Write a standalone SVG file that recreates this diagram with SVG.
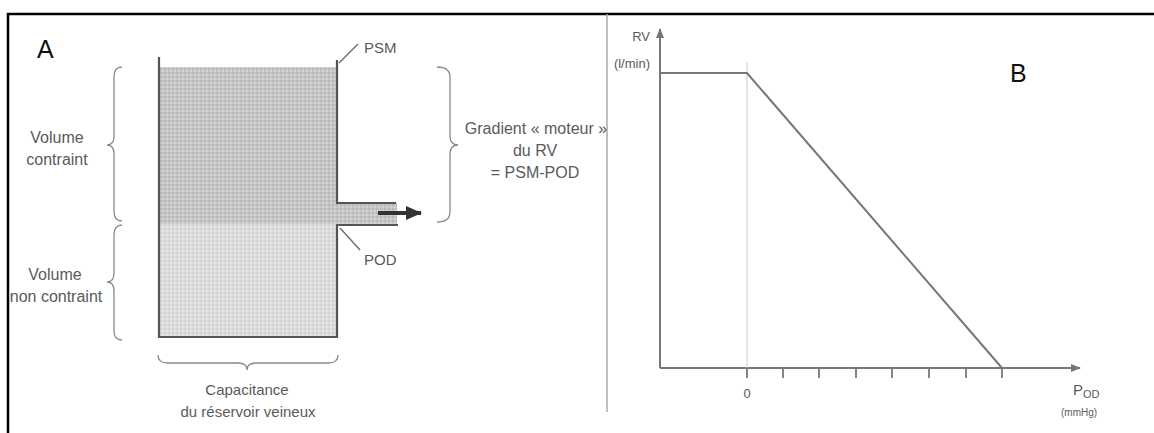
<svg xmlns="http://www.w3.org/2000/svg" width="1154" height="433" viewBox="0 0 1154 433">
<style>
.t{font-family:"Liberation Sans",Arial,sans-serif;fill:#5a5a5a;font-size:15px}
.m{font-size:16px}
.big{font-family:"Liberation Sans",Arial,sans-serif;fill:#111;font-size:25px}
.brace{fill:none;stroke:#8a8a8a;stroke-width:1.3}
.wall{fill:none;stroke:#555;stroke-width:2.2}
.ax{fill:none;stroke:#777;stroke-width:2}
</style>
<defs>
<pattern id="dk" width="4" height="4" patternUnits="userSpaceOnUse">
<rect width="4" height="4" fill="#c6c6c6"/><rect x="0" y="0" width="2" height="2" fill="#b8b8b8"/><rect x="2" y="2" width="2" height="2" fill="#d2d2d2"/>
</pattern>
<pattern id="lt" width="4" height="4" patternUnits="userSpaceOnUse">
<rect width="4" height="4" fill="#dddddd"/><rect x="0" y="0" width="2" height="2" fill="#d2d2d2"/><rect x="2" y="2" width="2" height="2" fill="#e6e6e6"/>
</pattern>
<marker id="ah" markerWidth="10" markerHeight="8" refX="9" refY="4" orient="auto" markerUnits="userSpaceOnUse">
<path d="M0,0 L10,4 L0,8 z" fill="#777"/>
</marker>
<marker id="bah" markerWidth="16" markerHeight="14" refX="15" refY="7" orient="auto" markerUnits="userSpaceOnUse">
<path d="M0,0 L16,7 L0,14 z" fill="#333"/>
</marker>
</defs>
<rect width="1154" height="433" fill="#fff"/>
<!-- frame -->
<path d="M8,440 L8,14 L1160,14" fill="none" stroke="#000" stroke-width="2.5"/>
<line x1="607" y1="14" x2="607" y2="412" stroke="#aaa" stroke-width="1.5"/>

<g id="panelA">
<text class="big" x="37" y="58">A</text>
<g id="reservoir">
<rect x="159" y="67" width="178" height="157" fill="url(#dk)"/>
<rect x="337" y="203" width="60" height="21" fill="url(#dk)"/>
<rect x="159" y="224" width="178" height="113" fill="url(#lt)"/>
<path class="wall" d="M159,57 L159,337 L337,337 L337,225 L398,225"/>
<path class="wall" d="M337,60 L337,203 L396,203"/>
</g>
<g id="arrow-out">
<line x1="378" y1="213" x2="421" y2="213" stroke="#333" stroke-width="4" marker-end="url(#bah)"/>
</g>
<g id="psm">
<line x1="339" y1="63" x2="358" y2="44" stroke="#666" stroke-width="1.3"/>
<text class="t" x="364" y="53">PSM</text>
</g>
<g id="pod">
<line x1="340" y1="228" x2="360" y2="250" stroke="#666" stroke-width="1.3"/>
<text class="t" x="364" y="265">POD</text>
</g>
<g id="vol-contraint">
<path class="brace" d="M122,67 Q114,67 114,77 L114,136 Q114,145 107,145 Q114,145 114,154 L114,211 Q114,221 122,221"/>
<text class="t m" text-anchor="middle" x="57" y="143">Volume</text>
<text class="t m" text-anchor="middle" x="57" y="165">contraint</text>
</g>
<g id="vol-non-contraint">
<path class="brace" d="M122,225 Q114,225 114,235 L114,273 Q114,282 107,282 Q114,282 114,291 L114,331 Q114,340 122,340"/>
<text class="t m" text-anchor="middle" x="55" y="280">Volume</text>
<text class="t m" text-anchor="middle" x="56" y="302">non contraint</text>
</g>
<g id="capacitance">
<path class="brace" d="M158,355 Q158,363 168,363 L238,363 Q247,363 247,370 Q247,363 256,363 L328,363 Q338,363 338,355"/>
<text class="t" text-anchor="middle" x="247" y="395">Capacitance</text>
<text class="t" text-anchor="middle" x="248" y="417">du réservoir veineux</text>
</g>
<g id="gradient">
<path class="brace" d="M437,67 Q450,67 450,77 L450,136 Q450,145 458,145 Q450,145 450,154 L450,212 Q450,222 437,222"/>
<text class="t m" text-anchor="middle" x="536" y="134">Gradient « moteur »</text>
<text class="t m" text-anchor="middle" x="535" y="156">du RV</text>
<text class="t m" text-anchor="middle" x="535" y="178">= PSM-POD</text>
</g>
</g>

<g id="panelB">
<text class="big" x="1010" y="82">B</text>
<g id="axes">
<line class="ax" x1="660" y1="368" x2="660" y2="29" marker-end="url(#ah)"/>
<line class="ax" x1="660" y1="368" x2="1080" y2="368" marker-end="url(#ah)"/>
<line x1="747" y1="62" x2="747" y2="368" stroke="#ccc" stroke-width="1"/>
<g stroke="#777" stroke-width="1.8">
<line x1="747" y1="368" x2="747" y2="378"/><line x1="783" y1="368" x2="783" y2="378"/>
<line x1="819" y1="368" x2="819" y2="378"/><line x1="856" y1="368" x2="856" y2="378"/>
<line x1="892" y1="368" x2="892" y2="378"/><line x1="929" y1="368" x2="929" y2="378"/>
<line x1="966" y1="368" x2="966" y2="378"/><line x1="1002" y1="368" x2="1002" y2="378"/>
</g>
</g>
<g id="curve">
<path d="M660,73 L747,73 L1002,368" fill="none" stroke="#777" stroke-width="2"/>
</g>
<text class="t" text-anchor="end" x="650" y="41" style="font-size:13px">RV</text>
<text class="t" text-anchor="end" x="650" y="68" style="font-size:13px">(l/min)</text>
<text class="t" text-anchor="middle" x="747" y="398" style="font-size:13px">0</text>
<text class="t" x="1073" y="395" style="font-size:15px">P<tspan style="font-size:11px" dy="3">OD</tspan></text>
<text class="t" x="1061" y="416" style="font-size:10px">(mmHg)</text>
</g>
</svg>
